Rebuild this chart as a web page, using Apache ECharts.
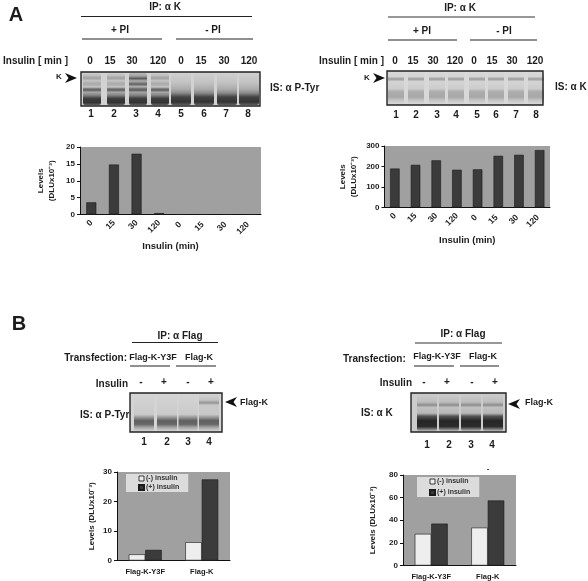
<!DOCTYPE html>
<html><head><meta charset="utf-8">
<style>html,body{margin:0;padding:0;background:#fff}#c{width:588px;height:581px;filter:blur(0.45px)}</style>
<script src="https://cdn.jsdelivr.net/npm/echarts@6/dist/echarts.min.js"></script>
</head><body><div id="c"></div>
<script>
// ---------- data ----------
const timeCategories = ['0','15','30','120','0 ','15 ','30 ','120 '];
const panelA1Levels = [3.6,14.8,18,0.4,0,0,0,0];
const panelA2Levels = [190,208,230,184,186,252,257,280];
const constructs = ['Flag-K-Y3F','Flag-K'];
const panelB1Minus = [2.1,6.2];
const panelB1Plus = [3.6,27.5];
const panelB2Minus = [28,33.5];
const panelB2Plus = [37,57.5];
const laneNumbers8 = ['1','2','3','4','5','6','7','8'];
const laneNumbers4 = ['1','2','3','4'];
const insulinSigns = ['-','+','-','+'];
const minusName = '(-) insulin';
const plusName = '(+) insulin';

// ---------- helpers ----------
const SANS = '"Liberation Sans", Arial, sans-serif';
const INK = '#1c1c1c';
const g = [];
function txt(x,y,s,o={}){
  g.push({type:'text',x,y,z:o.z||20,rotation:o.rot||0,style:{text:s,fill:INK,
    font:`bold ${o.size||10}px ${SANS}`,textAlign:o.align||'center',textVerticalAlign:'middle'}});
}
function line(x1,x2,y,c){
  g.push({type:'line',z:5,shape:{x1,y1:y,x2,y2:y},style:{stroke:c||'#222',lineWidth:1.2}});
}
function arrowL(x,y){
  g.push({type:'polygon',z:15,shape:{points:[[x,y],[x+12,y-5],[x+8.5,y],[x+12,y+5]]},style:{fill:'#111'}});
}
function arrowR(x,y){
  g.push({type:'polygon',z:15,shape:{points:[[x+12,y],[x,y-5],[x+3.5,y],[x,y+5]]},style:{fill:'#111'}});
}
function blot(x,y,w,h,bg,lanes){
  g.push({type:'rect',z:10,shape:{x,y,width:w,height:h},style:{fill:bg}});
  lanes.forEach(l=>{
    g.push({type:'rect',z:11,shape:{x:l.c-l.w/2,y:y+1,width:l.w,height:h-2,r:2},
      style:{fill:{type:'linear',x:0,y:0,x2:0,y2:1,colorStops:l.p.map(s=>({offset:s[0],color:s[1]}))}}});
  });
  g.push({type:'rect',z:12,shape:{x,y,width:w,height:h},style:{fill:'none',stroke:'#222',lineWidth:1.4}});
}
const listOf=(cs,w,p)=>cs.map((c,i)=>({c,w:Array.isArray(w)?w[i]:w,p:Array.isArray(p[0][0])?p[i]:p}));

// intensity profiles of the gels
const a1Plus=[[0,'#cfcfcf'],[.08,'#bdbdbd'],[.16,'#a0a0a0'],[.24,'#c4c4c4'],[.34,'#a8a8a8'],[.44,'#c4c4c4'],[.5,'#6a6a6a'],[.54,'#666'],[.6,'#a8a8a8'],[.7,'#808080'],[.8,'#3c3c3c'],[.92,'#333'],[1,'#5c5c5c']];
const a1Lane3=[[0,'#bbb'],[.1,'#a0a0a0'],[.17,'#5a5a5a'],[.25,'#b0b0b0'],[.35,'#606060'],[.43,'#b4b4b4'],[.5,'#666'],[.54,'#606060'],[.6,'#a4a4a4'],[.7,'#808080'],[.8,'#3c3c3c'],[.92,'#333'],[1,'#5c5c5c']];
const a1Minus=[[0,'#d0d0d0'],[.3,'#c2c2c2'],[.5,'#acacac'],[.62,'#8c8c8c'],[.75,'#444'],[.9,'#333'],[1,'#5c5c5c']];
const a2Prof=[[0,'#d8d8d8'],[.14,'#d4d4d4'],[.22,'#9a9a9a'],[.3,'#d4d4d4'],[.52,'#cccccc'],[.62,'#acacac'],[.78,'#a8a8a8'],[.9,'#c8c8c8'],[1,'#d8d8d8']];
const b1Prof=[[0,'#d4d4d4'],[.55,'#cacaca'],[.63,'#989898'],[.72,'#606060'],[.82,'#686868'],[.9,'#a4a4a4'],[1,'#d2d2d2']];
const b1Lane4=[[0,'#d2d2d2'],[.16,'#c4c4c4'],[.24,'#949494'],[.3,'#c8c8c8'],[.55,'#c8c8c8'],[.63,'#989898'],[.72,'#606060'],[.82,'#686868'],[.9,'#a4a4a4'],[1,'#d2d2d2']];
const b2Prof=[[0,'#cccccc'],[.22,'#bcbcbc'],[.3,'#8c8c8c'],[.36,'#c0c0c0'],[.52,'#b8b8b8'],[.6,'#555'],[.72,'#262626'],[.88,'#2c2c2c'],[.95,'#777'],[1,'#bcbcbc']];

// ---------- panel A left ----------
txt(16,15,'A',{size:20});
txt(165,7,'IP: α K');
line(81,252,16.5);
txt(120,30,'+ PI'); line(82,162,39);
txt(213,30,'- PI'); line(176,253,39);
txt(3,61,'Insulin [ min ]',{align:'left'});
[90,110,132,158,181,201,224,249].forEach((x,i)=>txt(x,61,timeCategories[i].trim()));
txt(59,77,'K',{size:8}); arrowR(65,78);
blot(81,72,179,34,'#d2d2d2',[
  ...listOf([92,116,138,160],18,[a1Plus,a1Plus,a1Lane3,a1Plus]),
  ...listOf([181,204,227,249],20,a1Minus)]);
[91,114,136,158,181,204,226,248].forEach((x,i)=>txt(x,114,laneNumbers8[i]));
txt(270,88,'IS: α P-Tyr',{align:'left'});

// ---------- panel A right ----------
txt(460,8,'IP: α K');
line(388,535,17,'#333');
txt(422,31,'+ PI'); line(388,457,40);
txt(504,31,'- PI'); line(470,537,40);
txt(384,61,'Insulin [ min ]',{align:'right'});
[395,413,433,455,474,492,512,535].forEach((x,i)=>txt(x,61,timeCategories[i].trim()));
txt(367,78,'K',{size:8}); arrowR(373,78);
blot(387,71,156,34,'#d8d8d8',listOf([396,416,437,456,477,496,516,536],16,a2Prof));
[396,416,437,456,477,496,516,536].forEach((x,i)=>txt(x,115,laneNumbers8[i]));
txt(555,87,'IS: α K',{align:'left'});

// ---------- panel B left ----------
txt(19,324,'B',{size:20});
txt(180,336,'IP: α Flag');
line(132,218,342.5);
txt(127,358,'Transfection:',{align:'right'});
txt(153,358,'Flag-K-Y3F',{size:9}); line(130,170,366);
txt(199,358,'Flag-K',{size:9}); line(176,216,366);
txt(128,384,'Insulin',{align:'right'});
[141,164,188,211].forEach((x,i)=>txt(x,382,insulinSigns[i]));
txt(80,415,'IS: α P-Tyr',{align:'left',z:8});
blot(130,393,92,39,'#d4d4d4',listOf([144,167,188,209],[20,20,19,20],[b1Prof,b1Prof,b1Prof,b1Lane4]));
arrowL(225,402); txt(240,403,'Flag-K',{align:'left',size:9});
[144,167,188,209].forEach((x,i)=>txt(x,442,laneNumbers4[i]));

// ---------- panel B right ----------
txt(463,334,'IP: α Flag');
line(415,502,343,'#333');
txt(343,359,'Transfection:',{align:'left'});
txt(437,357,'Flag-K-Y3F',{size:9}); line(414,454,366);
txt(483,357,'Flag-K',{size:9}); line(460,499,366);
txt(412,383,'Insulin',{align:'right'});
[424,447,472,495].forEach((x,i)=>txt(x,382,insulinSigns[i]));
blot(411,393,95,39,'#cccccc',listOf([427,449,471,493],[20,20,20,20],b2Prof));
arrowL(508,404); txt(525,403,'Flag-K',{align:'left',size:9});
txt(361,413,'IS: α K',{align:'left'});
[427,449,471,492].forEach((x,i)=>txt(x,445,laneNumbers4[i]));
txt(488,469,'-',{size:8});

// ---------- charts ----------
const PLOT_BG='#a0a0a0';
const grids=[
 {left:80,top:147,width:181,height:67.5,show:true,backgroundColor:PLOT_BG,borderWidth:0},
 {left:384.5,top:146,width:165.5,height:61.5,show:true,backgroundColor:PLOT_BG,borderWidth:0},
 {left:117,top:472,width:113,height:88.5,show:true,backgroundColor:PLOT_BG,borderWidth:0},
 {left:403,top:475,width:113,height:90.5,show:true,backgroundColor:PLOT_BG,borderWidth:0}
];
const axLine={lineStyle:{color:'#111',width:1}};
const tickCfg={length:3,alignWithLabel:false,lineStyle:{color:'#111',width:1}};
function xAx(i,cats,name,opts){
  return Object.assign({type:'category',gridIndex:i,data:cats,axisLine:axLine,axisTick:tickCfg,
    splitLine:{show:false},
    axisLabel:{fontFamily:SANS,fontWeight:'bold',fontSize:name?8.5:7.5,color:INK,interval:0,rotate:name?45:0,margin:7},
    name:name||'',nameLocation:'middle',nameGap:26,
    nameTextStyle:{fontFamily:SANS,fontWeight:'bold',fontSize:9.5,color:INK}},opts||{});
}
function yAx(i,max,interval,name,gap){
  return {type:'value',gridIndex:i,min:0,max,interval,axisLine:{show:true,lineStyle:axLine.lineStyle},
    axisTick:{show:true,length:3,lineStyle:{color:'#111'}},splitLine:{show:false},
    axisLabel:{fontFamily:SANS,fontWeight:'bold',fontSize:8,color:INK,margin:5},
    name,nameLocation:'middle',nameGap:gap,nameRotate:90,
    nameTextStyle:{fontFamily:SANS,fontWeight:'bold',fontSize:8,color:INK,lineHeight:11}};
}
const DARK='#3b3b3b', LIGHT='#eeeeee';
const barS=(i,name,data,color,w,gap)=>({type:'bar',name,xAxisIndex:i,yAxisIndex:i,data,barWidth:w,barGap:gap||0,
  itemStyle:{color,borderColor:'#1a1a1a',borderWidth:0.6},emphasis:{disabled:true},animation:false});
const legendCfg=(l,t,gap)=>({show:true,data:[{name:minusName,icon:'rect',itemStyle:{color:LIGHT,borderColor:'#111',borderWidth:0.8}},{name:plusName,icon:'rect'}],
  orient:'vertical',left:l,top:t,itemWidth:5,itemHeight:5,itemGap:gap,padding:[1,9,1,12],
  backgroundColor:'#dcdcdc',selectedMode:false,
  textStyle:{fontFamily:SANS,fontWeight:'bold',fontSize:7,color:'#333',padding:[0,0,0,-3]}});

const chart=echarts.init(document.getElementById('c'),null,{renderer:'canvas'});
chart.setOption({
  animation:false,
  backgroundColor:'#fff',
  grid:grids,
  xAxis:[
    xAx(0,timeCategories,'Insulin (min)',{nameGap:27}),
    xAx(1,timeCategories,'Insulin (min)',{nameGap:28}),
    xAx(2,constructs,''),
    xAx(3,constructs,'')
  ],
  yAxis:[
    yAx(0,20,5,'Levels\n(DLUx10⁻³)',23),
    yAx(1,300,100,'Levels\n(DLUx10⁻³)',25),
    yAx(2,30,10,'Levels (DLUx10⁻³)',20),
    yAx(3,80,20,'Levels (DLUx10⁻³)',25)
  ],
  legend:[legendCfg(126,474,2),legendCfg(417,477,4)],
  series:[
    barS(0,'A1',panelA1Levels,DARK,10),
    barS(1,'A2',panelA2Levels,DARK,9.5),
    barS(2,minusName,panelB1Minus,LIGHT,16.5),
    barS(2,plusName,panelB1Plus,DARK,16.5),
    barS(3,minusName,panelB2Minus,LIGHT,16.5),
    barS(3,plusName,panelB2Plus,DARK,16.5)
  ],
  graphic:g
});
</script></body></html>
